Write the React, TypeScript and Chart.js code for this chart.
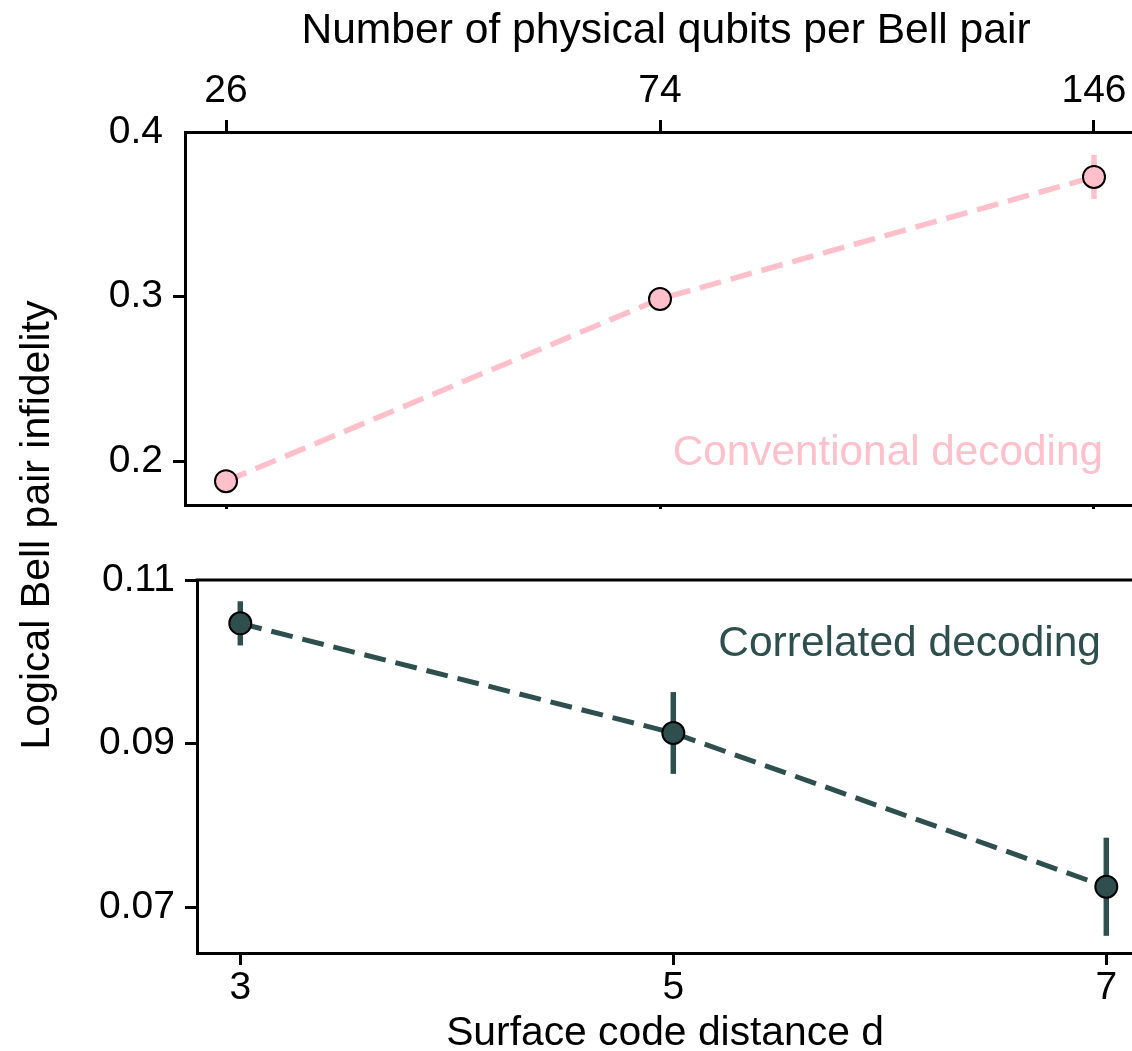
import React, { useEffect, useRef } from "react";
import { Chart, registerables } from "chart.js";

Chart.register(...registerables);

// ---- data ----
const distances = [3, 5, 7];
const qubitLabels = ["26", "74", "146"];
const conventional = [0.1878, 0.2985, 0.3727];
const conventionalErr = [0.004, 0.004, 0.0134];
const correlated = [0.1047, 0.0913, 0.0725];
const correlatedErr = [0.0027, 0.005, 0.006];
const topYTicks = [0.2, 0.3, 0.4];
const bottomYTicks = [0.07, 0.09, 0.11];

const PINK = "#FFC0CB";
const DARK = "#2F4F4F";
const FONT = "'Liberation Sans', Arial, Helvetica, sans-serif";

const tickFont = { family: FONT, size: 39, lineHeight: 1 };

const errorBarPlugin = {
  id: "errorBars",
  beforeDatasetsDraw(chart: any) {
    const { ctx } = chart;
    const xs = chart.scales.x;
    const ys = chart.scales.y;
    chart.data.datasets.forEach((ds: any) => {
      const errs: number[] = ds.errors;
      if (!errs) return;
      ctx.save();
      ctx.strokeStyle = ds.errorColor;
      ctx.lineWidth = 5.5;
      ctx.lineCap = "butt";
      ds.data.forEach((p: any, i: number) => {
        const x = xs.getPixelForValue(p.x);
        const y1 = ys.getPixelForValue(p.y - errs[i]);
        const y2 = ys.getPixelForValue(p.y + errs[i]);
        ctx.beginPath();
        ctx.moveTo(x, y1);
        ctx.lineTo(x, y2);
        ctx.stroke();
      });
      ctx.restore();
    });
  },
};

const textPlugin = (
  id: string,
  text: string,
  color: string,
  x: number,
  y: number,
  size: number,
  align: CanvasTextAlign,
  rotate = 0
) => ({
  id,
  afterDraw(chart: any) {
    const ctx = chart.ctx;
    ctx.save();
    ctx.translate(x, y);
    if (rotate) ctx.rotate(rotate);
    ctx.font = `${size}px ${FONT}`;
    ctx.fillStyle = color;
    ctx.textAlign = align;
    ctx.textBaseline = "alphabetic";
    ctx.fillText(text, 0, 0);
    ctx.restore();
  },
});

const gridOpts = (len: number, hideVal?: number) => ({
  drawOnChartArea: false,
  drawTicks: true,
  tickLength: len,
  lineWidth: 3,
  color: "#000",
  tickColor: (c: any) =>
    hideVal !== undefined && c.tick && Math.abs(c.tick.value - hideVal) < 1e-9 ? "rgba(0,0,0,0)" : "#000",
});
const borderOpts = { display: true, color: "#000", width: 3 };

const fixH = (h: number) => (s: any) => {
  s.height = h;
  s.paddingLeft = 0;
  s.paddingRight = 0;
};
const fixW = (w: number) => (s: any) => {
  s.width = w;
  s.paddingTop = 0;
  s.paddingBottom = 0;
};

export default function App() {
  const topRef = useRef<HTMLCanvasElement>(null);
  const botRef = useRef<HTMLCanvasElement>(null);

  useEffect(() => {
    const xTicks = (s: any) => {
      s.ticks = distances.map((v) => ({ value: v }));
    };

    const top = new Chart(topRef.current as HTMLCanvasElement, {
      type: "line",
      data: {
        datasets: [
          {
            data: distances.map((d, i) => ({ x: d, y: conventional[i] })),
            errors: conventionalErr,
            errorColor: PINK,
            borderColor: PINK,
            borderWidth: 5.5,
            borderDash: [22, 10],
            pointRadius: 11,
            pointBackgroundColor: PINK,
            pointBorderColor: "#000",
            pointBorderWidth: 2,
            fill: false,
            tension: 0,
            xAxisID: "x",
            yAxisID: "y",
          } as any,
        ],
      },
      options: {
        responsive: false,
        animation: false,
        layout: { padding: 0, autoPadding: false },
        plugins: { legend: { display: false }, tooltip: { enabled: false } },
        scales: {
          x: {
            type: "linear",
            position: "bottom",
            min: 2.811,
            max: 7.212,
            afterBuildTicks: xTicks,
            ticks: { display: false },
            grid: gridOpts(4),
            border: borderOpts,
            afterFit: fixH(55),
          },
          x2: {
            type: "linear",
            position: "top",
            min: 2.811,
            max: 7.212,
            afterBuildTicks: xTicks,
            ticks: {
              font: tickFont,
              color: "#000",
              padding: 9,
              autoSkip: false,
              maxRotation: 0,
              callback: (v: any) => {
                const i = distances.indexOf(Number(v));
                return i >= 0 ? qubitLabels[i] : "";
              },
            },
            grid: gridOpts(12),
            border: borderOpts,
            afterFit: fixH(132),
          },
          y: {
            type: "linear",
            position: "left",
            min: 0.1733,
            max: 0.4,
            afterBuildTicks: (s: any) => {
              s.ticks = topYTicks.map((v) => ({ value: v }));
            },
            ticks: {
              font: tickFont,
              color: "#000",
              padding: 10,
              callback: (v: any) => String(v),
            },
            grid: gridOpts(12, 0.4),
            border: borderOpts,
            afterFit: fixW(185),
          },
        },
      } as any,
      plugins: [
        errorBarPlugin,
        textPlugin("topTitle", "Number of physical qubits per Bell pair", "#000", 666, 43, 42.6, "center"),
        textPlugin("noteTop", "Conventional decoding", PINK, 1103, 465, 42.3, "right"),
      ],
    });

    const bot = new Chart(botRef.current as HTMLCanvasElement, {
      type: "line",
      data: {
        datasets: [
          {
            data: distances.map((d, i) => ({ x: d, y: correlated[i] })),
            errors: correlatedErr,
            errorColor: DARK,
            borderColor: DARK,
            borderWidth: 5,
            borderDash: [22, 10],
            pointRadius: 11,
            pointBackgroundColor: DARK,
            pointBorderColor: "#000",
            pointBorderWidth: 2,
            fill: false,
            tension: 0,
            xAxisID: "x",
            yAxisID: "y",
          } as any,
        ],
      },
      options: {
        responsive: false,
        animation: false,
        layout: { padding: { top: 580, left: 0, right: 0, bottom: 0 }, autoPadding: false },
        plugins: { legend: { display: false }, tooltip: { enabled: false } },
        scales: {
          x: {
            type: "linear",
            position: "bottom",
            min: 2.8,
            max: 7.248,
            afterBuildTicks: xTicks,
            ticks: {
              font: tickFont,
              color: "#000",
              padding: 4,
              autoSkip: false,
              maxRotation: 0,
              callback: (v: any) => String(v),
            },
            grid: gridOpts(12),
            border: borderOpts,
            afterFit: fixH(98),
          },
          y: {
            type: "linear",
            position: "left",
            min: 0.0644,
            max: 0.11,
            afterBuildTicks: (s: any) => {
              s.ticks = bottomYTicks.map((v) => ({ value: v }));
            },
            ticks: {
              font: tickFont,
              color: "#000",
              padding: 10,
              callback: (v: any) => String(v),
            },
            grid: gridOpts(12),
            border: borderOpts,
            afterFit: fixW(197),
          },
        },
      } as any,
      plugins: [
        errorBarPlugin,
        textPlugin("noteBot", "Correlated decoding", DARK, 1101, 656, 42.5, "right"),
        textPlugin("yTitle", "Logical Bell pair infidelity", "#000", 49, 525, 41, "center", -Math.PI / 2),
        textPlugin("xTitle", "Surface code distance d", "#000", 665, 1045, 40.8, "center"),
        {
          id: "topSpine",
          afterDraw(chart: any) {
            const { ctx, chartArea } = chart;
            ctx.save();
            ctx.strokeStyle = "#000";
            ctx.lineWidth = 3;
            ctx.beginPath();
            ctx.moveTo(chartArea.left - 1.5, chartArea.top);
            ctx.lineTo(chartArea.right, chartArea.top);
            ctx.stroke();
            ctx.restore();
          },
        },
      ],
    });

    return () => {
      top.destroy();
      bot.destroy();
    };
  }, []);

  return (
    <div
      style={{
        position: "absolute",
        left: 0,
        top: 0,
        width: 1132,
        height: 1051,
        overflow: "hidden",
        background: "#fff",
      }}
    >
      <canvas
        ref={topRef}
        width={1140}
        height={560}
        style={{ position: "absolute", left: 0, top: 0, width: 1140, height: 560 }}
      />
      <canvas
        ref={botRef}
        width={1160}
        height={1051}
        style={{ position: "absolute", left: 0, top: 0, width: 1160, height: 1051 }}
      />
    </div>
  );
}
